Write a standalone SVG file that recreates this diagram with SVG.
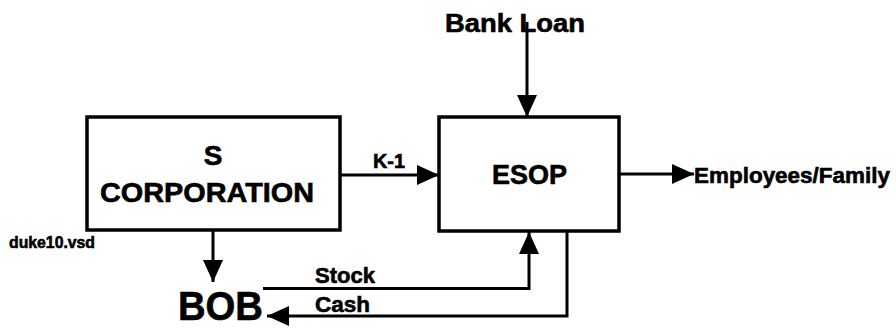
<svg xmlns="http://www.w3.org/2000/svg" width="896" height="331" viewBox="0 0 896 331">
<defs>
<style>
text{font-family:"Liberation Sans",Arial,sans-serif;font-weight:bold;fill:#000;stroke:#000;stroke-width:0.6}
.box{fill:#fff;stroke:#000;stroke-width:3.5}
.ln{fill:none;stroke:#000;stroke-width:3}
</style>
<marker id="ah" markerUnits="userSpaceOnUse" markerWidth="22" markerHeight="20" refX="22" refY="10" orient="auto">
<path d="M0,0 L22,10 L0,20 Z" fill="#000"/>
</marker>
</defs>
<rect width="896" height="331" fill="#fff"/>
<g id="connectors">
<line class="ln" x1="527" y1="22" x2="527" y2="117" marker-end="url(#ah)"/>
<line class="ln" x1="340" y1="175" x2="439" y2="175" marker-end="url(#ah)"/>
<line class="ln" x1="619" y1="174" x2="694" y2="174" marker-end="url(#ah)"/>
<line class="ln" x1="213" y1="230" x2="213" y2="282" marker-end="url(#ah)"/>
<polyline class="ln" points="263,288.5 529,288.5 529,232" marker-end="url(#ah)"/>
<polyline class="ln" points="567,231 567,316 267,316" marker-end="url(#ah)"/>
<text x="373" y="168" font-size="20" textLength="32" lengthAdjust="spacingAndGlyphs">K-1</text>
<text x="315" y="283" font-size="22" textLength="60" lengthAdjust="spacingAndGlyphs">Stock</text>
<text x="315" y="312" font-size="22" textLength="55" lengthAdjust="spacingAndGlyphs">Cash</text>
</g>
<g id="bank-loan">
<text x="445" y="32" font-size="26" textLength="140" lengthAdjust="spacingAndGlyphs">Bank Loan</text>
</g>
<g id="s-corporation">
<rect class="box" x="87" y="117" width="253" height="113"/>
<text x="213" y="165" font-size="28" text-anchor="middle">S</text>
<text x="207" y="202" font-size="28" text-anchor="middle" textLength="214" lengthAdjust="spacingAndGlyphs">CORPORATION</text>
</g>
<g id="esop">
<rect class="box" x="439" y="117" width="180" height="114"/>
<text x="529.5" y="184" font-size="28" text-anchor="middle" textLength="75" lengthAdjust="spacingAndGlyphs">ESOP</text>
</g>
<g id="employees-family">
<text x="694" y="183" font-size="22" textLength="196" lengthAdjust="spacingAndGlyphs">Employees/Family</text>
</g>
<g id="bob">
<text x="178" y="320" font-size="40" textLength="85" lengthAdjust="spacingAndGlyphs">BOB</text>
</g>
<g id="file-label">
<text x="9" y="248" font-size="16" textLength="86" lengthAdjust="spacingAndGlyphs">duke10.vsd</text>
</g>
</svg>
